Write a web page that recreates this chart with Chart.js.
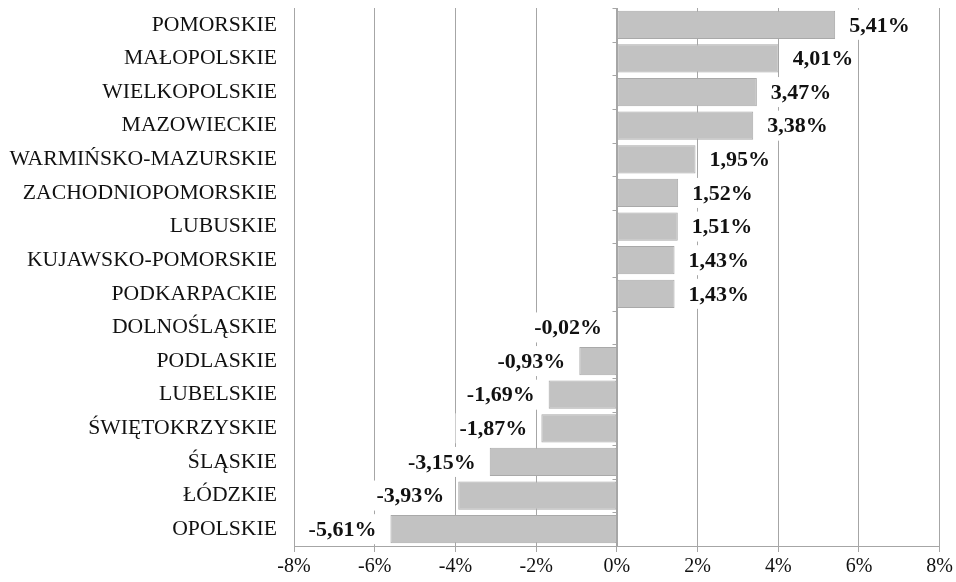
<!DOCTYPE html>
<html>
<head>
<meta charset="utf-8">
<script src="https://cdn.jsdelivr.net/npm/chart.js@4.4.0/dist/chart.umd.min.js"></script>
<style>
  html, body { margin: 0; padding: 0; background: #fff; }
  #wrap { width: 956px; height: 582px; position: relative; }
</style>
</head>
<body>
<div id="wrap"><canvas id="chart"></canvas></div>
<script>
// regions and their change (%)
const regions = [
  'POMORSKIE', 'MAŁOPOLSKIE', 'WIELKOPOLSKIE', 'MAZOWIECKIE',
  'WARMIŃSKO-MAZURSKIE', 'ZACHODNIOPOMORSKIE', 'LUBUSKIE', 'KUJAWSKO-POMORSKIE',
  'PODKARPACKIE', 'DOLNOŚLĄSKIE', 'PODLASKIE', 'LUBELSKIE',
  'ŚWIĘTOKRZYSKIE', 'ŚLĄSKIE', 'ŁÓDZKIE', 'OPOLSKIE'
];
const changes = [
  5.41, 4.01, 3.47, 3.38,
  1.95, 1.52, 1.51, 1.43,
  1.43, -0.02, -0.93, -1.69,
  -1.87, -3.15, -3.93, -5.61
];
const axisMin = -8;
const axisMax = 8;
const axisStep = 2;

const SERIF = '"Liberation Serif", "Times New Roman", serif';
const GRID = '#a6a6a6';

const fmt = v => v.toFixed(2).replace('.', ',') + '%';

// value labels with a white box, placed past the bar end
const valueLabels = {
  id: 'valueLabels',
  afterDatasetsDraw(chart) {
    const ctx = chart.ctx;
    const meta = chart.getDatasetMeta(0);
    ctx.save();
    ctx.font = 'bold 22px ' + SERIF;
    ctx.textBaseline = 'middle';
    meta.data.forEach((bar, i) => {
      const v = changes[i];
      const txt = fmt(v);
      const w = ctx.measureText(txt).width;
      const gap = 14;
      let x0 = v >= 0 ? bar.x + gap : bar.x - gap - w;
      ctx.fillStyle = '#fff';
      ctx.fillRect(x0 - 4, bar.y - 15, w + 8, 30);
      ctx.fillStyle = '#111';
      ctx.textAlign = 'left';
      ctx.fillText(txt, x0, bar.y + 1);
    });
    ctx.restore();
  }
};

// vertical axis line at zero with small ticks between categories
const zeroAxis = {
  id: 'zeroAxis',
  afterDatasetsDraw(chart) {
    const { ctx, chartArea } = chart;
    const x = Math.round(chart.scales.x.getPixelForValue(0)) + 0.5;
    const band = (chartArea.bottom - chartArea.top) / regions.length;
    ctx.save();
    ctx.strokeStyle = GRID;
    ctx.lineWidth = 1;
    ctx.beginPath();
    ctx.moveTo(x, chartArea.top);
    ctx.lineTo(x, chartArea.bottom);
    for (let i = 0; i <= regions.length; i++) {
      const yy = Math.round(chartArea.top + i * band) + 0.5;
      ctx.moveTo(x - 5, yy);
      ctx.lineTo(x, yy);
    }
    ctx.stroke();
    ctx.restore();
  }
};

new Chart(document.getElementById('chart'), {
  type: 'bar',
  data: {
    labels: regions,
    datasets: [{
      data: changes,
      backgroundColor: '#c2c2c2',
      borderColor: '#a9a9a9',
      borderWidth: 1,
      borderSkipped: false,
      barPercentage: 0.84,
      categoryPercentage: 1
    }]
  },
  options: {
    indexAxis: 'y',
    responsive: true,
    maintainAspectRatio: false,
    animation: false,
    layout: { padding: { top: 8, right: 9, bottom: 0, left: 0 } },
    plugins: { legend: { display: false }, tooltip: { enabled: false } },
    scales: {
      x: {
        min: axisMin,
        max: axisMax,
        ticks: {
          stepSize: axisStep,
          callback: v => v + '%',
          color: '#111',
          font: { family: SERIF, size: 20 },
          padding: 3
        },
        grid: { color: GRID, tickLength: 6 },
        border: { color: GRID }
      },
      y: {
        afterFit(scale) {
          scale.width = 294;
          scale.paddingTop = 0;
          scale.paddingBottom = 0;
        },
        grid: { display: false },
        border: { display: false },
        ticks: {
          color: '#111',
          font: { family: SERIF, size: 21.7 },
          padding: 9,
          autoSkip: false
        }
      }
    }
  },
  plugins: [valueLabels, zeroAxis]
});
</script>
</body>
</html>
